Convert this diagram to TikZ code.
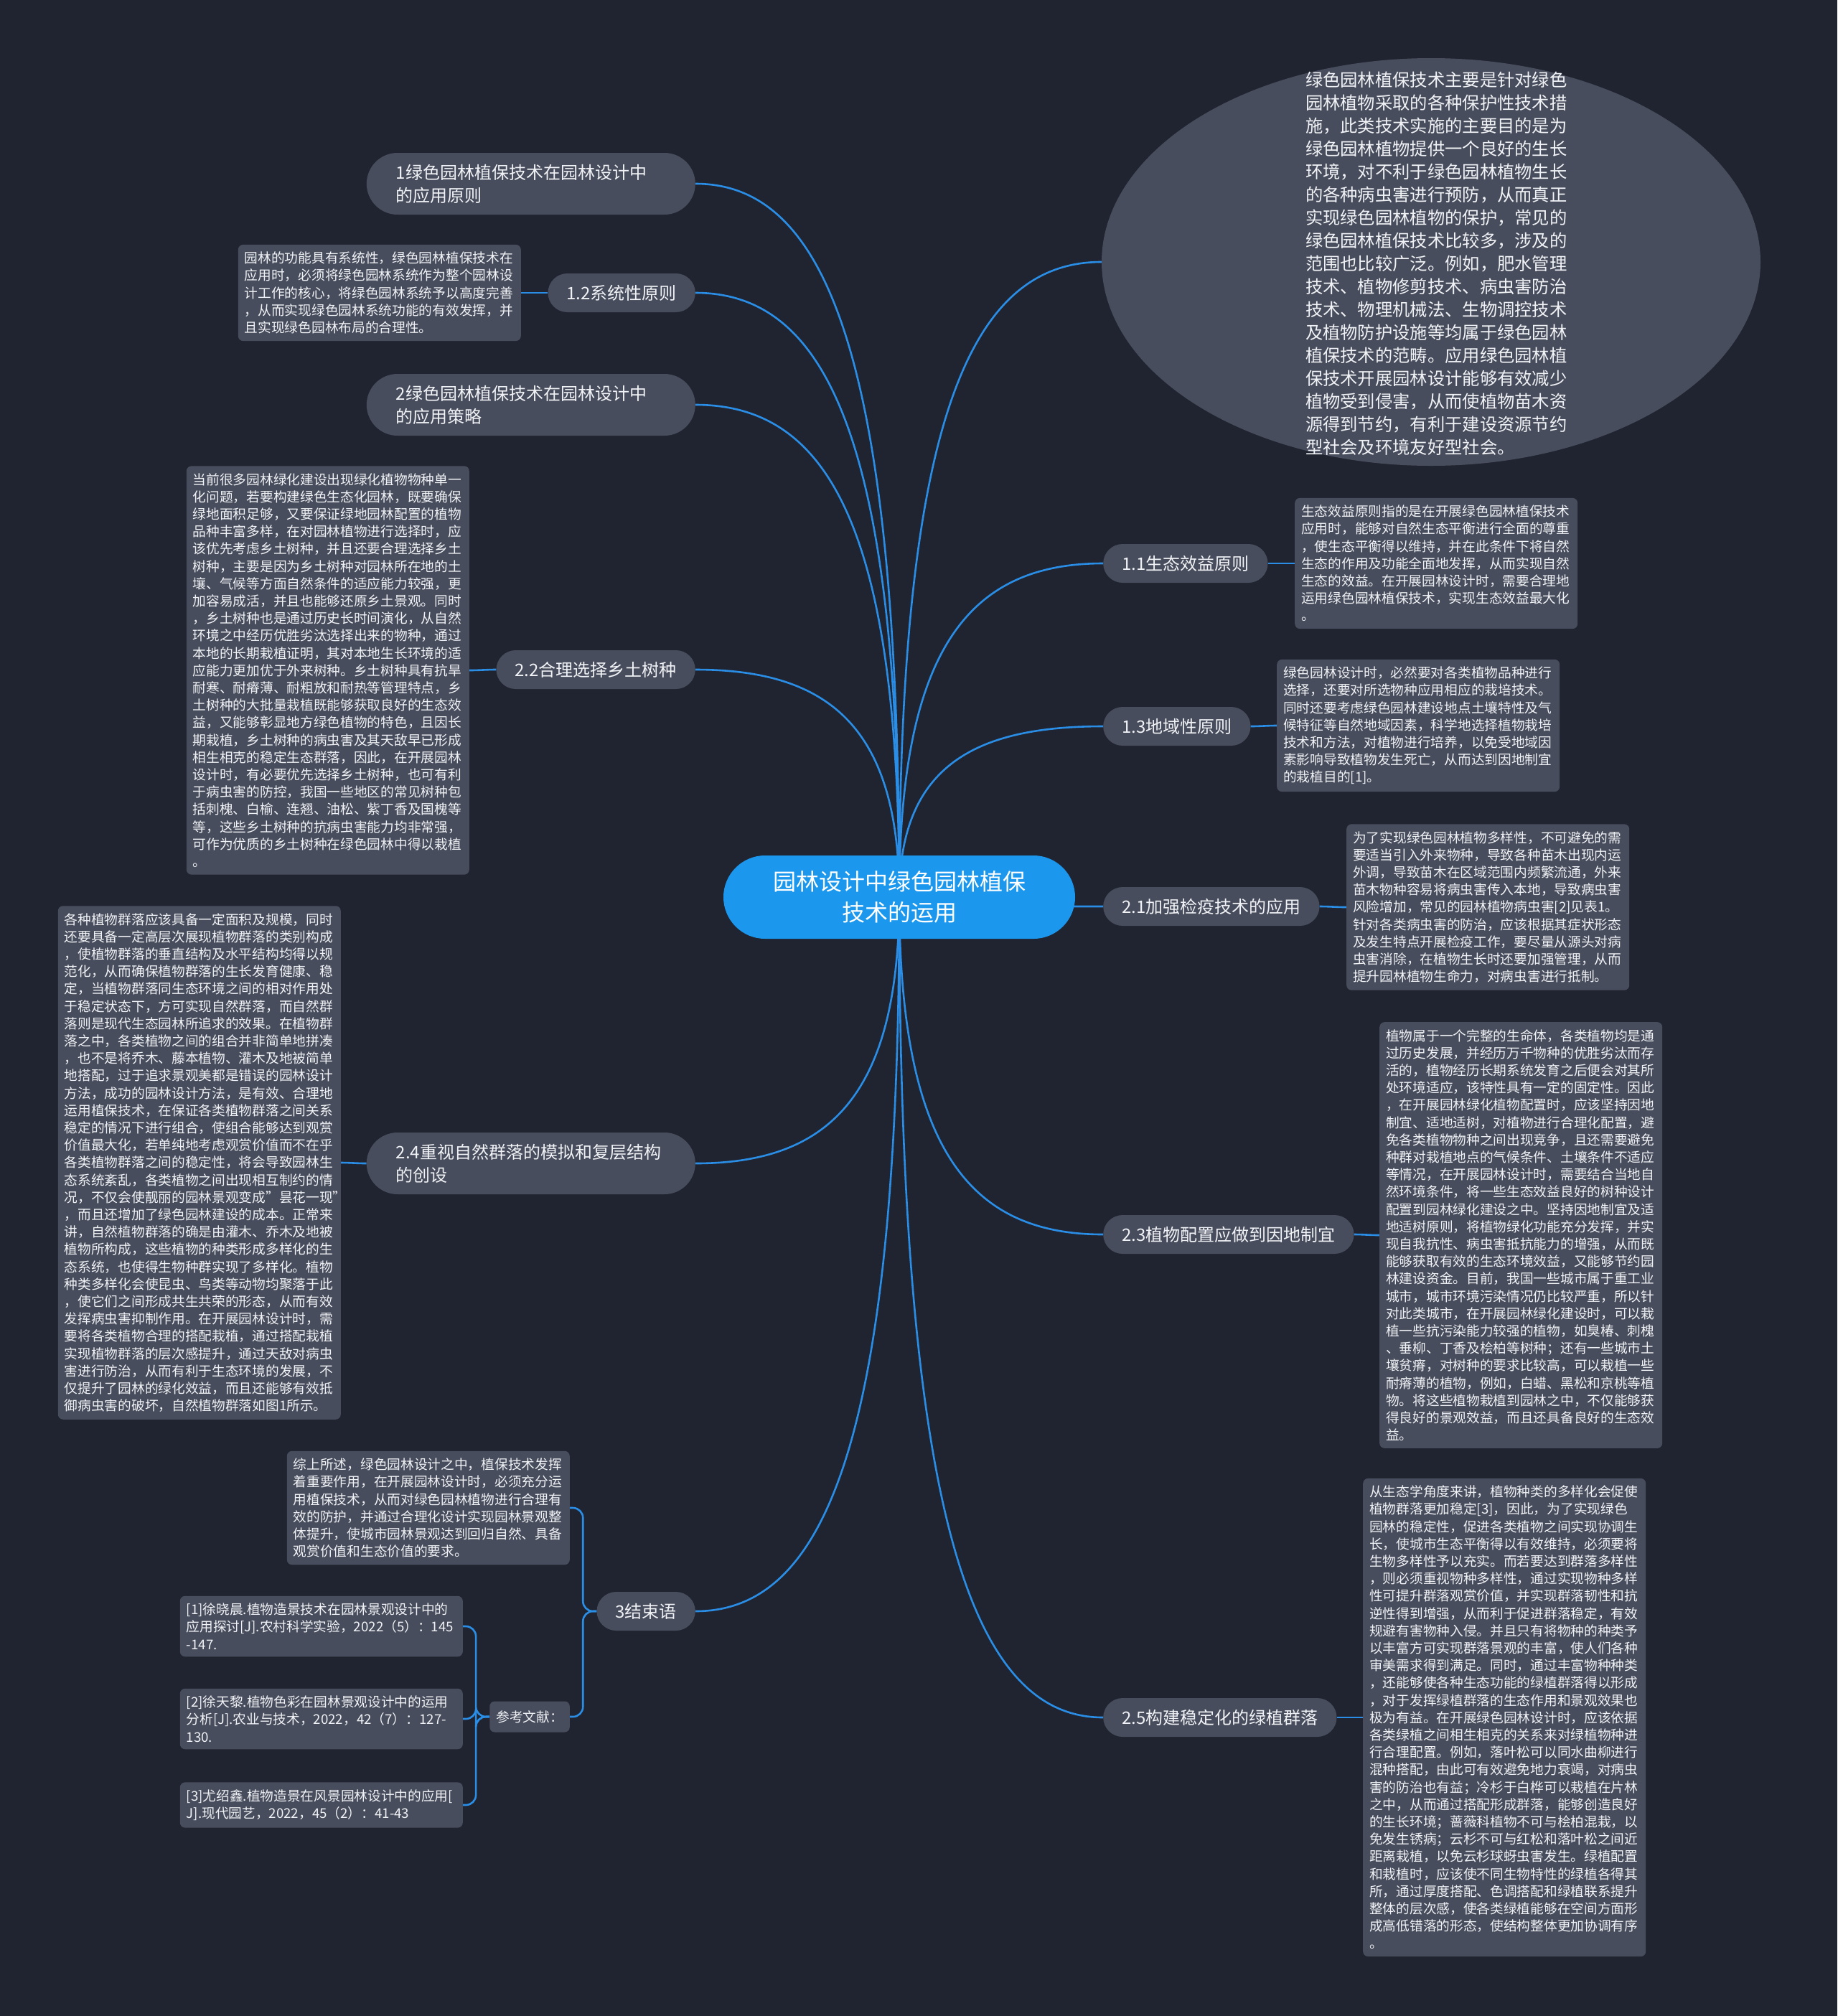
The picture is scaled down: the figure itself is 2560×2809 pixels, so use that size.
\documentclass[tikz,border=0pt]{standalone}
\usepackage{fontspec}
\setmainfont{Noto Sans CJK SC}
\usetikzlibrary{calc,shapes.geometric}
\definecolor{bgc}{RGB}{32,36,48}
\definecolor{boxc}{RGB}{72,77,93}
\definecolor{ctrc}{RGB}{27,151,238}
\definecolor{linkc}{RGB}{43,142,230}
\definecolor{txtc}{RGB}{240,242,245}
\pgfdeclarelayer{bg}
\pgfsetlayers{bg,main}
\tikzset{
  link/.style={draw=linkc, line width=2.6pt},
  lbl/.style={fill=boxc, rounded corners=27pt, minimum height=54pt, inner xsep=26pt, inner ysep=0pt, text=txtc, font=\fontsize{24}{32}\selectfont},
  lbltwo/.style={fill=boxc, rounded corners=43pt, minimum height=86pt, text width=376pt, inner xsep=41pt, inner ysep=0pt, align=left, text=txtc, font=\fontsize{24}{32}\selectfont},
  txtbox/.style={fill=boxc, rounded corners=7pt, text width=376pt, inner xsep=9pt, inner ysep=10pt, align=left, text=txtc, font=\fontsize{18.7}{24.2}\selectfont},
  reflbl/.style={fill=boxc, rounded corners=7pt, minimum height=43pt, inner xsep=9pt, inner ysep=0pt, text=txtc, font=\fontsize{18.7}{24.2}\selectfont},
  ctrnode/.style={fill=ctrc, rounded corners=58pt, minimum width=490pt, minimum height=116pt, align=center, text=white, font=\fontsize{32}{43}\selectfont},
  ellnode/.style={ellipse, fill=boxc, minimum width=918pt, minimum height=568pt, inner sep=0pt},
  elltxt/.style={text width=366pt, inner sep=0pt, align=left, text=txtc, font=\fontsize{24.3}{32}\selectfont}
}
\newcommand\mlink[1]{\draw[link] let \p1=(ctr.center), \p2=(#1) in (\p1) .. controls (\x1,{\y1+0.75*(\y2-\y1)}) and ({\x1+0.35*(\x2-\x1)},\y2) .. (\p2);}
\begin{document}
\begin{tikzpicture}[x=1pt,y=-1pt]
\useasboundingbox (0,0) rectangle (2560,2809);
\begin{pgfonlayer}{bg}
\fill[bgc] (0,0) rectangle (2560,2809);
\end{pgfonlayer}

% center
\node[ctrnode] (ctr) at (1253,1250) {园林设计中绿色园林植保\\技术的运用};

% left side
\node[lbltwo, anchor=east] (n1) at (969,256) {1绿色园林植保技术在园林设计中\\的应用原则};
\node[lbl, anchor=east] (n12) at (969,408) {1.2系统性原则};
\node[txtbox, anchor=east] (b12) at (726,408) {园林的功能具有系统性，绿色园林植保技术在\\应用时，必须将绿色园林系统作为整个园林设\\计工作的核心，将绿色园林系统予以高度完善\\，从而实现绿色园林系统功能的有效发挥，并\\且实现绿色园林布局的合理性。};
\node[lbltwo, anchor=east] (n2) at (969,564) {2绿色园林植保技术在园林设计中\\的应用策略};
\node[lbl, anchor=east] (n22) at (969,933) {2.2合理选择乡土树种};
\node[txtbox, anchor=east] (b22) at (654,934) {当前很多园林绿化建设出现绿化植物物种单一\\化问题，若要构建绿色生态化园林，既要确保\\绿地面积足够，又要保证绿地园林配置的植物\\品种丰富多样，在对园林植物进行选择时，应\\该优先考虑乡土树种，并且还要合理选择乡土\\树种，主要是因为乡土树种对园林所在地的土\\壤、气候等方面自然条件的适应能力较强，更\\加容易成活，并且也能够还原乡土景观。同时\\，乡土树种也是通过历史长时间演化，从自然\\环境之中经历优胜劣汰选择出来的物种，通过\\本地的长期栽植证明，其对本地生长环境的适\\应能力更加优于外来树种。乡土树种具有抗旱\\耐寒、耐瘠薄、耐粗放和耐热等管理特点，乡\\土树种的大批量栽植既能够获取良好的生态效\\益，又能够彰显地方绿色植物的特色，且因长\\期栽植，乡土树种的病虫害及其天敌早已形成\\相生相克的稳定生态群落，因此，在开展园林\\设计时，有必要优先选择乡土树种，也可有利\\于病虫害的防控，我国一些地区的常见树种包\\括刺槐、白榆、连翘、油松、紫丁香及国槐等\\等，这些乡土树种的抗病虫害能力均非常强，\\可作为优质的乡土树种在绿色园林中得以栽植\\。};
\node[lbltwo, anchor=east] (n24) at (969,1621) {2.4重视自然群落的模拟和复层结构\\的创设};
\node[txtbox, anchor=east] (b24) at (475,1620) {各种植物群落应该具备一定面积及规模，同时\\还要具备一定高层次展现植物群落的类别构成\\，使植物群落的垂直结构及水平结构均得以规\\范化，从而确保植物群落的生长发育健康、稳\\定，当植物群落同生态环境之间的相对作用处\\于稳定状态下，方可实现自然群落，而自然群\\落则是现代生态园林所追求的效果。在植物群\\落之中，各类植物之间的组合并非简单地拼凑\\，也不是将乔木、藤本植物、灌木及地被简单\\地搭配，过于追求景观美都是错误的园林设计\\方法，成功的园林设计方法，是有效、合理地\\运用植保技术，在保证各类植物群落之间关系\\稳定的情况下进行组合，使组合能够达到观赏\\价值最大化，若单纯地考虑观赏价值而不在乎\\各类植物群落之间的稳定性，将会导致园林生\\态系统紊乱，各类植物之间出现相互制约的情\\况，不仅会使靓丽的园林景观变成"昙花一现"\\，而且还增加了绿色园林建设的成本。正常来\\讲，自然植物群落的确是由灌木、乔木及地被\\植物所构成，这些植物的种类形成多样化的生\\态系统，也使得生物种群实现了多样化。植物\\种类多样化会使昆虫、鸟类等动物均聚落于此\\，使它们之间形成共生共荣的形态，从而有效\\发挥病虫害抑制作用。在开展园林设计时，需\\要将各类植物合理的搭配栽植，通过搭配栽植\\实现植物群落的层次感提升，通过天敌对病虫\\害进行防治，从而有利于生态环境的发展，不\\仅提升了园林的绿化效益，而且还能够有效抵\\御病虫害的破坏，自然植物群落如图1所示。};
\node[lbl, anchor=east] (n3) at (969,2245) {3结束语};
\node[txtbox, anchor=east] (b3) at (794,2101) {综上所述，绿色园林设计之中，植保技术发挥\\着重要作用，在开展园林设计时，必须充分运\\用植保技术，从而对绿色园林植物进行合理有\\效的防护，并通过合理化设计实现园林景观整\\体提升，使城市园林景观达到回归自然、具备\\观赏价值和生态价值的要求。};
\node[reflbl, anchor=east] (nref) at (794,2392) {参考文献：};
\node[txtbox, anchor=east] (r1) at (645,2266) {[1]徐晓晨.植物造景技术在园林景观设计中的\\应用探讨[J].农村科学实验，2022（5）：145\\-147.};
\node[txtbox, anchor=east] (r2) at (645,2395) {[2]徐天黎.植物色彩在园林景观设计中的运用\\分析[J].农业与技术，2022，42（7）：127-\\130.};
\node[txtbox, anchor=east] (r3) at (645,2515) {[3]尤绍鑫.植物造景在风景园林设计中的应用[\\J].现代园艺，2022，45（2）：41-43};

% right side
\node[ellnode] (ell) at (1994,365) {};
\node[elltxt] (ellt) at (2002,367) {绿色园林植保技术主要是针对绿色\\园林植物采取的各种保护性技术措\\施，此类技术实施的主要目的是为\\绿色园林植物提供一个良好的生长\\环境，对不利于绿色园林植物生长\\的各种病虫害进行预防，从而真正\\实现绿色园林植物的保护，常见的\\绿色园林植保技术比较多，涉及的\\范围也比较广泛。例如，肥水管理\\技术、植物修剪技术、病虫害防治\\技术、物理机械法、生物调控技术\\及植物防护设施等均属于绿色园林\\植保技术的范畴。应用绿色园林植\\保技术开展园林设计能够有效减少\\植物受到侵害，从而使植物苗木资\\源得到节约，有利于建设资源节约\\型社会及环境友好型社会。};
\node[lbl, anchor=west] (n11) at (1537,785) {1.1生态效益原则};
\node[txtbox, anchor=west] (b11) at (1804,785) {生态效益原则指的是在开展绿色园林植保技术\\应用时，能够对自然生态平衡进行全面的尊重\\，使生态平衡得以维持，并在此条件下将自然\\生态的作用及功能全面地发挥，从而实现自然\\生态的效益。在开展园林设计时，需要合理地\\运用绿色园林植保技术，实现生态效益最大化\\。};
\node[lbl, anchor=west] (n13) at (1537,1012) {1.3地域性原则};
\node[txtbox, anchor=west] (b13) at (1779,1011) {绿色园林设计时，必然要对各类植物品种进行\\选择，还要对所选物种应用相应的栽培技术。\\同时还要考虑绿色园林建设地点土壤特性及气\\候特征等自然地域因素，科学地选择植物栽培\\技术和方法，对植物进行培养，以免受地域因\\素影响导致植物发生死亡，从而达到因地制宜\\的栽植目的[1]。};
\node[lbl, anchor=west] (n21) at (1537,1263) {2.1加强检疫技术的应用};
\node[txtbox, anchor=west] (b21) at (1876,1264) {为了实现绿色园林植物多样性，不可避免的需\\要适当引入外来物种，导致各种苗木出现内运\\外调，导致苗木在区域范围内频繁流通，外来\\苗木物种容易将病虫害传入本地，导致病虫害\\风险增加，常见的园林植物病虫害[2]见表1。\\针对各类病虫害的防治，应该根据其症状形态\\及发生特点开展检疫工作，要尽量从源头对病\\虫害消除，在植物生长时还要加强管理，从而\\提升园林植物生命力，对病虫害进行抵制。};
\node[lbl, anchor=west] (n23) at (1537,1720) {2.3植物配置应做到因地制宜};
\node[txtbox, anchor=west] (b23) at (1922,1721) {植物属于一个完整的生命体，各类植物均是通\\过历史发展，并经历万千物种的优胜劣汰而存\\活的，植物经历长期系统发育之后便会对其所\\处环境适应，该特性具有一定的固定性。因此\\，在开展园林绿化植物配置时，应该坚持因地\\制宜、适地适树，对植物进行合理化配置，避\\免各类植物物种之间出现竞争，且还需要避免\\种群对栽植地点的气候条件、土壤条件不适应\\等情况，在开展园林设计时，需要结合当地自\\然环境条件，将一些生态效益良好的树种设计\\配置到园林绿化建设之中。坚持因地制宜及适\\地适树原则，将植物绿化功能充分发挥，并实\\现自我抗性、病虫害抵抗能力的增强，从而既\\能够获取有效的生态环境效益，又能够节约园\\林建设资金。目前，我国一些城市属于重工业\\城市，城市环境污染情况仍比较严重，所以针\\对此类城市，在开展园林绿化建设时，可以栽\\植一些抗污染能力较强的植物，如臭椿、刺槐\\、垂柳、丁香及桧柏等树种；还有一些城市土\\壤贫瘠，对树种的要求比较高，可以栽植一些\\耐瘠薄的植物，例如，白蜡、黑松和京桃等植\\物。将这些植物栽植到园林之中，不仅能够获\\得良好的景观效益，而且还具备良好的生态效\\益。};
\node[lbl, anchor=west] (n25) at (1537,2393) {2.5构建稳定化的绿植群落};
\node[txtbox, anchor=west] (b25) at (1899,2393) {从生态学角度来讲，植物种类的多样化会促使\\植物群落更加稳定[3]，因此，为了实现绿色\\园林的稳定性，促进各类植物之间实现协调生\\长，使城市生态平衡得以有效维持，必须要将\\生物多样性予以充实。而若要达到群落多样性\\，则必须重视物种多样性，通过实现物种多样\\性可提升群落观赏价值，并实现群落韧性和抗\\逆性得到增强，从而利于促进群落稳定，有效\\规避有害物种入侵。并且只有将物种的种类予\\以丰富方可实现群落景观的丰富，使人们各种\\审美需求得到满足。同时，通过丰富物种种类\\，还能够使各种生态功能的绿植群落得以形成\\，对于发挥绿植群落的生态作用和景观效果也\\极为有益。在开展绿色园林设计时，应该依据\\各类绿植之间相生相克的关系来对绿植物种进\\行合理配置。例如，落叶松可以同水曲柳进行\\混种搭配，由此可有效避免地力衰竭，对病虫\\害的防治也有益；冷杉于白桦可以栽植在片林\\之中，从而通过搭配形成群落，能够创造良好\\的生长环境；蔷薇科植物不可与桧柏混栽，以\\免发生锈病；云杉不可与红松和落叶松之间近\\距离栽植，以免云杉球蚜虫害发生。绿植配置\\和栽植时，应该使不同生物特性的绿植各得其\\所，通过厚度搭配、色调搭配和绿植联系提升\\整体的层次感，使各类绿植能够在空间方面形\\成高低错落的形态，使结构整体更加协调有序\\。};

% connectors
\begin{pgfonlayer}{bg}
\mlink{n1.east}
\mlink{n12.east}
\mlink{n2.east}
\mlink{n22.east}
\mlink{n24.east}
\mlink{n3.east}
\mlink{ell.west}
\mlink{n11.west}
\mlink{n13.west}
\mlink{n21.west}
\mlink{n23.west}
\mlink{n25.west}
\draw[link] (n12.west) to[out=180,in=0] (b12.east);
\draw[link] (n22.west) to[out=180,in=0] (b22.east);
\draw[link] (n24.west) to[out=180,in=0] (b24.east);
\draw[link] (n11.east) to[out=0,in=180] (b11.west);
\draw[link] (n13.east) to[out=0,in=180] (b13.west);
\draw[link] (n21.east) to[out=0,in=180] (b21.west);
\draw[link] (n23.east) to[out=0,in=180] (b23.west);
\draw[link] (n25.east) to[out=0,in=180] (b25.west);
\draw[link, rounded corners=14pt] (n3.west) -- ++(-19,0) |- (b3.east);
\draw[link, rounded corners=14pt] (n3.west) -- ++(-19,0) |- (nref.east);
\draw[link, rounded corners=14pt] (nref.west) -- ++(-19,0) |- (r1.east);
\draw[link, rounded corners=14pt] (nref.west) -- ++(-19,0) |- (r2.east);
\draw[link, rounded corners=14pt] (nref.west) -- ++(-19,0) |- (r3.east);
\end{pgfonlayer}
\end{tikzpicture}
\end{document}
